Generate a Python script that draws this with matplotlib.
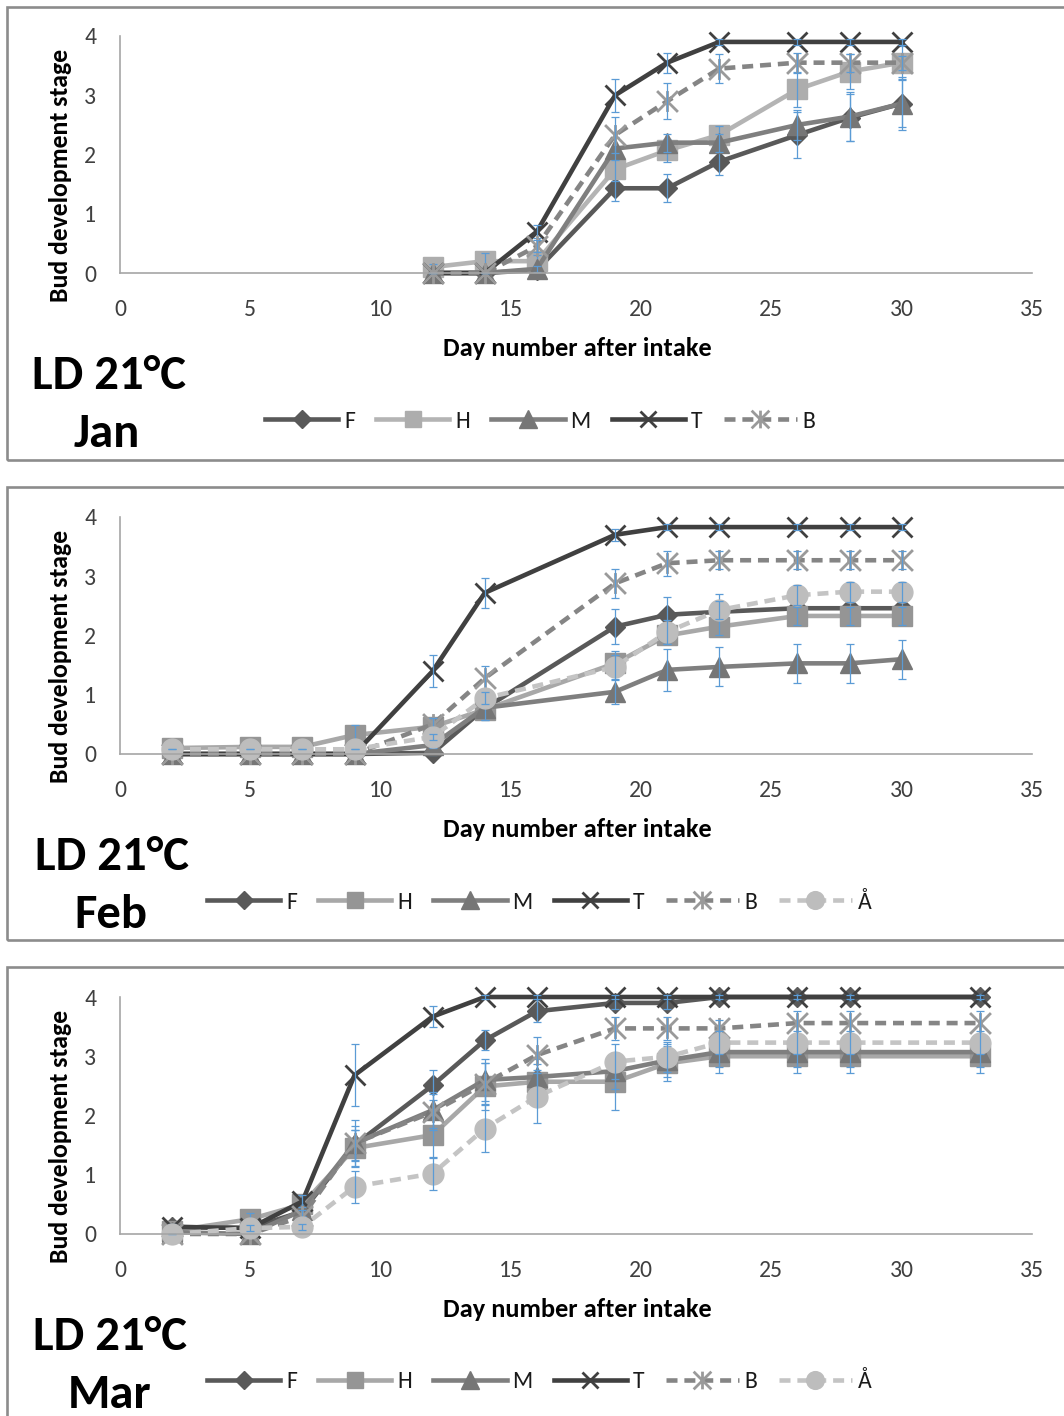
import matplotlib
matplotlib.use("Agg")
import matplotlib.pyplot as plt
from matplotlib import font_manager
from matplotlib.path import Path
from matplotlib.patches import Rectangle

# ---------------------------------------------------------------- fonts
_available = {f.name for f in font_manager.fontManager.ttflist}
FAMILY = [f for f in ("Carlito", "Lato", "DejaVu Sans") if f in _available]
plt.rcParams["font.family"] = FAMILY

# ---------------------------------------------------------------- data
x_ticks = [0, 5, 10, 15, 20, 25, 30, 35]
y_ticks = [0, 1, 2, 3, 4]

# January intake
jan_days = [12, 14, 16, 19, 21, 23, 26, 28, 30]
jan_F = [0, 0, 0.05, 1.43, 1.43, 1.88, 2.33, 2.62, 2.86]
jan_H = [0.1, 0.2, 0.2, 1.75, 2.07, 2.33, 3.1, 3.4, 3.55]
jan_M = [0, 0, 0.07, 2.1, 2.2, 2.2, 2.5, 2.64, 2.86]
jan_T = [0, 0, 0.7, 3.0, 3.55, 3.9, 3.9, 3.9, 3.9]
jan_B = [0, 0, 0.45, 2.33, 2.9, 3.45, 3.55, 3.55, 3.55]
jan_F_err = [0, 0, 0.05, 0.22, 0.24, 0.22, 0.39, 0.4, 0.45]
jan_H_err = [0.05, 0.14, 0.1, 0.2, 0.2, 0.15, 0.3, 0.3, 0.28]
jan_M_err = [0, 0, 0.05, 0.2, 0.15, 0.15, 0.25, 0.42, 0.4]
jan_T_err = [0, 0, 0.11, 0.28, 0.17, 0.05, 0.05, 0.05, 0.05]
jan_B_err = [0, 0, 0.1, 0.3, 0.3, 0.25, 0.17, 0.15, 0.12]

# February intake
feb_days = [2, 5, 7, 9, 12, 14, 19, 21, 23, 26, 28, 30]
feb_F = [0, 0, 0, 0, 0.02, 0.77, 2.15, 2.35, 2.4, 2.46, 2.46, 2.46]
feb_H = [0.1, 0.12, 0.12, 0.32, 0.46, 0.75, 1.53, 2.0, 2.15, 2.33, 2.33, 2.33]
feb_M = [0, 0, 0, 0, 0.15, 0.78, 1.05, 1.42, 1.47, 1.53, 1.53, 1.6]
feb_T = [0, 0, 0, 0, 1.4, 2.72, 3.7, 3.83, 3.83, 3.83, 3.83, 3.83]
feb_B = [0, 0, 0, 0, 0.5, 1.28, 2.88, 3.22, 3.27, 3.27, 3.27, 3.27]
feb_A = [0.08, 0.08, 0.08, 0.08, 0.29, 0.94, 1.47, 2.06, 2.43, 2.68, 2.74, 2.74]
feb_F_err = [0, 0, 0, 0, 0.03, 0.1, 0.3, 0.3, 0.3, 0.25, 0.25, 0.25]
feb_H_err = [0.05, 0.05, 0.05, 0.17, 0.15, 0.17, 0.2, 0.15, 0.15, 0.15, 0.15, 0.15]
feb_M_err = [0, 0, 0, 0, 0.05, 0.2, 0.2, 0.35, 0.33, 0.33, 0.33, 0.33]
feb_T_err = [0, 0, 0, 0, 0.27, 0.25, 0.1, 0.05, 0.05, 0.05, 0.05, 0.05]
feb_B_err = [0, 0, 0, 0, 0.1, 0.21, 0.25, 0.21, 0.15, 0.15, 0.15, 0.15]
feb_A_err = [0, 0, 0, 0, 0.05, 0.1, 0.2, 0.2, 0.15, 0.17, 0.17, 0.17]

# March intake
mar_days = [2, 5, 7, 9, 12, 14, 16, 19, 21, 23, 26, 28, 33]
mar_F = [0.12, 0.1, 0.38, 1.5, 2.51, 3.27, 3.76, 3.9, 3.9, 4.0, 4.0, 4.0, 4.0]
mar_H = [0.05, 0.25, 0.5, 1.45, 1.67, 2.49, 2.57, 2.57, 2.88, 3.0, 3.0, 3.0, 3.0]
mar_M = [0.03, 0.0, 0.4, 1.53, 2.09, 2.6, 2.65, 2.75, 2.93, 3.07, 3.07, 3.07, 3.07]
mar_T = [0.12, 0.1, 0.55, 2.68, 3.67, 4.0, 4.0, 4.0, 4.0, 4.0, 4.0, 4.0, 4.0]
mar_B = [0, 0, 0.3, 1.53, 2.06, 2.54, 3.02, 3.47, 3.47, 3.47, 3.56, 3.56, 3.56]
mar_A = [0, 0.1, 0.12, 0.8, 1.02, 1.78, 2.32, 2.91, 2.99, 3.23, 3.23, 3.23, 3.23]
mar_F_err = [0.05, 0.05, 0.1, 0.25, 0.25, 0.17, 0.19, 0.1, 0.1, 0.05, 0.05, 0.05, 0.05]
mar_H_err = [0.05, 0.1, 0.1, 0.3, 0.37, 0.4, 0.3, 0.48, 0.3, 0.28, 0.28, 0.28, 0.28]
mar_M_err = [0.03, 0, 0.1, 0.4, 0.3, 0.35, 0.3, 0.3, 0.28, 0.25, 0.25, 0.25, 0.25]
mar_T_err = [0.05, 0.05, 0.1, 0.52, 0.17, 0.03, 0.03, 0.03, 0.03, 0.03, 0.03, 0.03, 0.03]
mar_B_err = [0, 0, 0.1, 0.3, 0.3, 0.35, 0.3, 0.2, 0.2, 0.15, 0.2, 0.2, 0.2]
mar_A_err = [0, 0.05, 0.05, 0.27, 0.27, 0.4, 0.45, 0.3, 0.25, 0.2, 0.2, 0.2, 0.2]

# ---------------------------------------------------------------- styles
# Excel-style "star" marker: an X with a vertical bar through it
STAR = Path([(0, -1), (0, 1), (-1, -1), (1, 1), (-1, 1), (1, -1)],
            [Path.MOVETO, Path.LINETO] * 3)

ERR_COLOR = "#5B9BD5"
DASH = (2.4, 1.5)


def style(name, light_h=False):
    if name == "F":
        return dict(color="#595959", marker="D", ms=10.5, mfc="#595959",
                    mec="#595959", ls="-")
    if name == "H":
        if light_h:
            return dict(color="#B4B4B4", marker="s", ms=14, mfc="#ADADAD",
                        mec="#ADADAD", ls="-")
        return dict(color="#A8A8A8", marker="s", ms=14, mfc="#959595",
                    mec="#959595", ls="-")
    if name == "M":
        return dict(color="#7F7F7F", marker="^", ms=15, mfc="#767676",
                    mec="#767676", ls="-")
    if name == "T":
        return dict(color="#404040", marker="x", ms=14, mec="#404040",
                    mew=2.0, ls="-")
    if name == "B":
        return dict(color="#858585", marker=STAR, ms=15, mfc="none",
                    mec="#9A9A9A", mew=2.0, ls=(0, DASH))
    if name == "Å":
        return dict(color="#C4C4C4", marker="o", ms=15, mfc="#BDBDBD",
                    mec="#BDBDBD", ls=(0, DASH))
    raise ValueError(name)


# ---------------------------------------------------------------- layout
W, H = 1064, 1416
fig = plt.figure(figsize=(W / 100, H / 100), dpi=100)


def fx(px):
    return px / W


def fy(py):
    return 1 - py / H


panels = [
    dict(top=36, bottom=273, box=(7, 460), month="Jan", light_h=True,
         days=jan_days,
         series=[("F", jan_F, jan_F_err), ("H", jan_H, jan_H_err),
                 ("M", jan_M, jan_M_err), ("T", jan_T, jan_T_err),
                 ("B", jan_B, jan_B_err)],
         legend_x=265, title_x=109, month_x=107),
    dict(top=517, bottom=754, box=(487, 940), month="Feb", light_h=False,
         days=feb_days,
         series=[("F", feb_F, feb_F_err), ("H", feb_H, feb_H_err),
                 ("M", feb_M, feb_M_err), ("T", feb_T, feb_T_err),
                 ("B", feb_B, feb_B_err), ("Å", feb_A, feb_A_err)],
         legend_x=207, title_x=112, month_x=111),
    dict(top=997, bottom=1234, box=(967, 1440), month="Mar", light_h=False,
         days=mar_days,
         series=[("F", mar_F, mar_F_err), ("H", mar_H, mar_H_err),
                 ("M", mar_M, mar_M_err), ("T", mar_T, mar_T_err),
                 ("B", mar_B, mar_B_err), ("Å", mar_A, mar_A_err)],
         legend_x=207, title_x=110, month_x=110),
]

TICK_COLOR = "#404040"

for p in panels:
    # panel frame (runs off the right edge of the page)
    btop, bbot = p["box"]
    fig.patches.append(Rectangle((fx(7), fy(bbot)), fx(W + 30 - 7),
                                 (bbot - btop) / H, fill=False,
                                 ec="#8C8C8C", lw=1.9,
                                 transform=fig.transFigure, clip_on=False,
                                 zorder=0))

    ax = fig.add_axes([fx(120), fy(p["bottom"]), fx(1032) - fx(120),
                       (p["bottom"] - p["top"]) / H])
    ax.set_facecolor("none")
    ax.set_xlim(0, 35)
    ax.set_ylim(0, 4)
    ax.set_xticks(x_ticks)
    ax.set_yticks(y_ticks)
    for side in ("top", "right"):
        ax.spines[side].set_visible(False)
    for side in ("left", "bottom"):
        ax.spines[side].set_color("#A6A6A6")
        ax.spines[side].set_linewidth(1.2)
    ax.tick_params(axis="both", length=0, labelsize=17, colors=TICK_COLOR)
    ax.tick_params(axis="x", pad=19)
    ax.tick_params(axis="y", pad=17)

    handles = []
    for name, vals, errs in p["series"]:
        st = style(name, p["light_h"])
        (ln,) = ax.plot(p["days"], vals, lw=3.3, label=name,
                        solid_joinstyle="round", dash_capstyle="butt",
                        clip_on=False, **st)
        handles.append(ln)
        ax.errorbar(p["days"], vals, yerr=errs, fmt="none",
                    ecolor=ERR_COLOR, elinewidth=0.9, capsize=3.2,
                    capthick=0.9, clip_on=False)

    cy = (p["top"] + p["bottom"]) / 2
    fig.text(fx(61), fy(cy + 21), "Bud development stage", rotation=90,
             ha="center", va="center", fontsize=18.5, fontweight="bold",
             color="black")
    fig.text(fx(577), fy(p["bottom"] + 83), "Day number after intake",
             ha="center", va="baseline", fontsize=19, fontweight="bold",
             color="black")
    fig.text(fx(p["title_x"]), fy(p["bottom"] + 116), "LD 21°C",
             ha="center", va="baseline", fontsize=35, fontweight="bold",
             color="black")
    fig.text(fx(p["month_x"]), fy(p["bottom"] + 174), p["month"],
             ha="center", va="baseline", fontsize=35, fontweight="bold",
             color="black")

    fig.legend(handles=handles, loc="center left",
               bbox_to_anchor=(fx(p["legend_x"]), fy(p["bottom"] + 148)),
               ncol=len(handles), frameon=False, fontsize=17,
               handlelength=3.1, handletextpad=0.25, columnspacing=0.9,
               borderpad=0, borderaxespad=0, numpoints=1, markerscale=0.85,
               labelcolor="#1A1A1A")

fig.savefig("out.png", dpi=100, facecolor="white")
